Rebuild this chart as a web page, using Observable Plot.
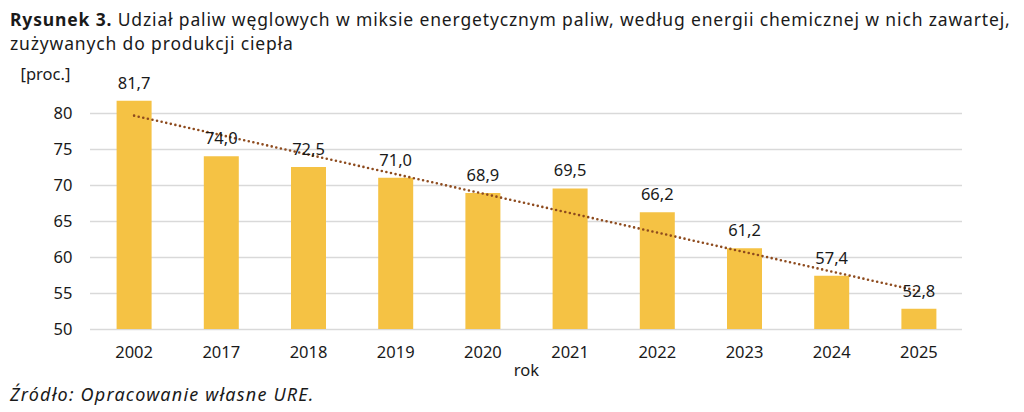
<!DOCTYPE html>
<html>
<head>
<meta charset="utf-8">
<script src="https://cdn.jsdelivr.net/npm/d3@7"></script>
<script src="https://cdn.jsdelivr.net/npm/@observablehq/plot@0.6"></script>
<style>
  html, body { margin: 0; padding: 0; background: #fff; }
  body { width: 1024px; height: 412px; overflow: hidden; font-family: "Noto Sans", sans-serif; color: #1a1a1a; }
  #title { position: absolute; left: 10px; top: 7px; font-size: 17.5px; line-height: 24px; white-space: nowrap; letter-spacing: 0.85px; }
  #title b { font-weight: 700; }
  #chart { position: absolute; left: 0; top: 56px; }
  #caption { position: absolute; left: 10px; top: 382px; font-size: 18px; font-style: italic; letter-spacing: 1.2px; }
</style>
</head>
<body>
<div id="title"><b>Rysunek 3.</b> Udział paliw węglowych w miksie energetycznym paliw, według energii chemicznej w nich zawartej,<br>zużywanych do produkcji ciepła</div>
<div id="chart"></div>
<div id="caption">Źródło: Opracowanie własne URE.</div>
<script>
const years = ["2002", "2017", "2018", "2019", "2020", "2021", "2022", "2023", "2024", "2025"];
const values = [81.7, 74.0, 72.5, 71.0, 68.9, 69.5, 66.2, 61.2, 57.4, 52.8];
const labels = ["81,7", "74,0", "72,5", "71,0", "68,9", "69,5", "66,2", "61,2", "57,4", "52,8"];
const yTicks = [50, 55, 60, 65, 70, 75, 80];

const data = years.map((year, k) => ({ idx: k + 1, year, value: values[k], label: labels[k] }));
const idxTicks = data.map(d => d.idx);

const chart = Plot.plot({
  width: 1024,
  height: 324,
  marginLeft: 90,
  marginRight: 62,
  marginTop: 21,
  marginBottom: 51,
  style: { fontFamily: "Noto Sans, sans-serif", fontSize: "16.5px", color: "#1a1a1a", background: "#fff" },
  x: { type: "linear", domain: [0.5, 10.5], label: null },
  y: { domain: [50, 85], label: null },
  marks: [
    Plot.gridY(yTicks, { stroke: "#d9d9d9", strokeOpacity: 1, strokeWidth: 1.5 }),
    Plot.ruleX(data, { x: "idx", y1: 50, y2: "value", stroke: "#F5C244", strokeWidth: 35, strokeLinecap: "butt" }),
    Plot.linearRegressionY(data, { x: "idx", y: "value", stroke: "#8E4B1E", strokeWidth: 2.6, strokeDasharray: "0 4.7", strokeLinecap: "round", ci: 0 }),
    Plot.text(data, { x: "idx", y: "value", text: "label", dy: -18, fontSize: 16.5, fill: "#1a1a1a" }),
    Plot.text(["[proc.]"], { frameAnchor: "top-left", lineAnchor: "middle", dx: -70, dy: -3, fontSize: 16.5, fill: "#1a1a1a", textAnchor: "start" }),
    Plot.text(["rok"], { frameAnchor: "bottom", lineAnchor: "middle", dy: 41, fontSize: 16.5, fill: "#1a1a1a" }),
    Plot.axisX({ ticks: idxTicks, tickFormat: i => years[i - 1], tickSize: 0, tickPadding: 17, fontSize: 16.5, label: null }),
    Plot.axisY({ ticks: yTicks, tickSize: 0, tickPadding: 18, fontSize: 16.5, label: null })
  ]
});
document.getElementById("chart").appendChild(chart);
</script>
</body>
</html>
